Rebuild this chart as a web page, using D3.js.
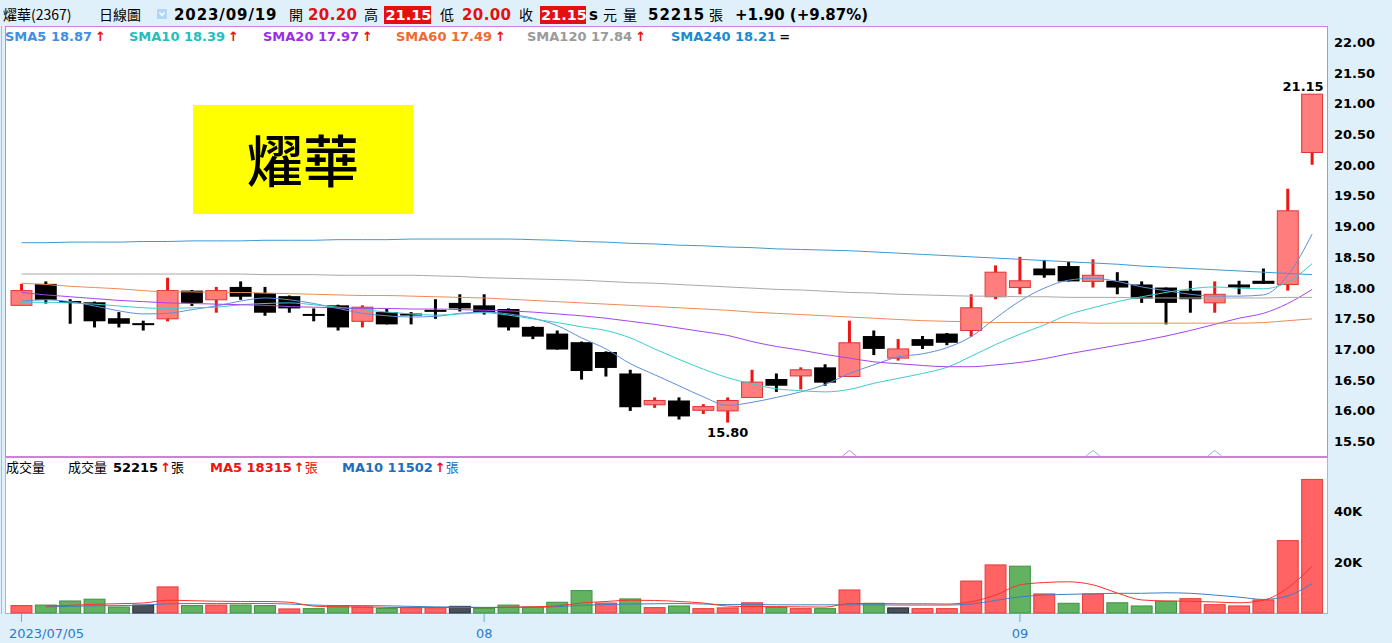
<!DOCTYPE html>
<html><head><meta charset="utf-8">
<script src="https://cdn.jsdelivr.net/npm/d3@7"></script>
<style>html,body{margin:0;padding:0;background:#e0f0fb;overflow:hidden}svg{display:block}</style>
</head><body><svg id="c" width="1392" height="643"></svg>
<script>
// ---------------- DATA ----------------
const dates = [
 "2023/07/05","2023/07/06","2023/07/07","2023/07/10","2023/07/11","2023/07/12","2023/07/13","2023/07/14","2023/07/17","2023/07/18",
 "2023/07/19","2023/07/20","2023/07/21","2023/07/24","2023/07/25","2023/07/26","2023/07/27","2023/07/28","2023/07/31","2023/08/01",
 "2023/08/02","2023/08/04","2023/08/07","2023/08/08","2023/08/09","2023/08/10","2023/08/11","2023/08/14","2023/08/15","2023/08/16",
 "2023/08/17","2023/08/18","2023/08/21","2023/08/22","2023/08/23","2023/08/24","2023/08/25","2023/08/28","2023/08/29","2023/08/30",
 "2023/08/31","2023/09/01","2023/09/04","2023/09/05","2023/09/06","2023/09/07","2023/09/08","2023/09/11","2023/09/12","2023/09/13",
 "2023/09/14","2023/09/15","2023/09/18","2023/09/19"];
const openP = [17.71,18.06,17.78,17.76,17.50,17.42,17.49,17.95,17.80,18.01,
 17.91,17.86,17.57,17.71,17.45,17.60,17.56,17.62,17.75,17.71,
 17.65,17.36,17.25,17.11,16.95,16.60,16.09,16.16,16.00,15.99,
 16.21,16.51,16.56,16.70,16.55,17.21,16.85,17.16,17.25,17.30,
 17.85,18.00,18.31,18.35,18.10,18.11,18.05,18.00,17.95,17.75,
 18.05,18.11,18.05,20.20];
const highP = [18.06,18.10,17.81,17.77,17.60,17.46,18.16,17.96,18.01,18.10,
 18.01,17.87,17.66,17.72,17.71,17.65,17.60,17.81,17.89,17.89,
 17.66,17.37,17.30,17.12,16.96,16.66,16.21,16.21,16.10,16.21,
 16.66,16.60,16.70,16.75,17.46,17.30,17.16,17.21,17.26,17.89,
 18.36,18.50,18.45,18.42,18.46,18.25,18.10,18.00,18.11,18.10,
 18.11,18.31,19.61,21.15];
const lowP = [17.71,17.74,17.41,17.35,17.35,17.30,17.45,17.70,17.59,17.80,
 17.54,17.59,17.45,17.30,17.35,17.40,17.40,17.49,17.61,17.56,
 17.30,17.16,16.99,16.50,16.55,15.99,16.04,15.85,15.94,15.80,
 16.21,16.30,16.34,16.40,16.55,16.90,16.81,17.00,17.06,17.20,
 17.81,17.89,18.16,18.10,18.00,17.89,17.75,17.40,17.59,17.59,
 17.89,18.06,17.95,20.00];
const closeP = [17.95,17.80,17.76,17.45,17.41,17.41,17.95,17.75,17.95,17.85,
 17.59,17.66,17.56,17.35,17.68,17.40,17.56,17.62,17.66,17.60,
 17.35,17.20,16.99,16.64,16.69,16.05,16.16,15.90,16.06,16.16,
 16.46,16.40,16.66,16.45,17.10,17.00,17.00,17.05,17.10,17.67,
 18.25,18.11,18.20,18.10,18.20,18.00,17.82,17.75,17.81,17.89,
 18.00,18.06,19.25,21.15];
const sma5 = [17.78,17.80,17.77,17.70,17.62,17.57,17.58,17.64,17.70,17.78,
 17.83,17.80,17.74,17.66,17.58,17.54,17.52,17.53,17.58,17.60,
 17.57,17.50,17.38,17.18,17.00,16.76,16.58,16.40,16.22,16.08,
 16.13,16.21,16.30,16.42,16.60,16.74,16.87,16.92,17.02,17.20,
 17.50,17.78,17.99,18.12,18.15,18.10,18.01,17.95,17.89,17.86,
 17.86,17.88,18.20,18.87];
const sma10 = [17.76,17.76,17.75,17.73,17.70,17.67,17.66,17.67,17.68,17.72,
 17.74,17.75,17.72,17.68,17.64,17.60,17.57,17.55,17.57,17.59,
 17.55,17.49,17.43,17.36,17.30,17.18,17.00,16.83,16.67,16.53,
 16.43,16.35,16.32,16.30,16.34,16.44,16.52,16.60,16.70,16.88,
 17.07,17.24,17.39,17.56,17.67,17.77,17.85,17.92,17.98,18.01,
 17.99,17.98,18.09,18.39];
const sma20 = [17.92,17.88,17.85,17.82,17.79,17.77,17.75,17.74,17.73,17.72,
 17.71,17.69,17.68,17.67,17.66,17.66,17.65,17.65,17.64,17.63,
 17.62,17.60,17.57,17.54,17.50,17.45,17.40,17.34,17.28,17.22,
 17.12,17.04,16.98,16.91,16.85,16.79,16.76,16.73,16.71,16.71,
 16.74,16.78,16.84,16.92,16.99,17.06,17.13,17.21,17.30,17.40,
 17.50,17.58,17.74,17.97];
const sma60 = [18.07,18.05,18.02,18.00,17.98,17.95,17.93,17.93,17.92,17.92,
 17.91,17.90,17.89,17.88,17.87,17.87,17.86,17.85,17.84,17.83,
 17.81,17.79,17.77,17.75,17.73,17.71,17.69,17.67,17.65,17.63,
 17.60,17.58,17.56,17.54,17.52,17.50,17.48,17.46,17.45,17.44,
 17.43,17.43,17.43,17.43,17.42,17.42,17.42,17.42,17.42,17.42,
 17.42,17.43,17.46,17.49];
const sma120 = [18.22,18.22,18.22,18.22,18.22,18.22,18.22,18.22,18.22,18.22,
 18.21,18.21,18.21,18.20,18.20,18.20,18.20,18.19,18.18,18.16,
 18.15,18.14,18.13,18.12,18.10,18.08,18.07,18.05,18.03,18.01,
 17.99,17.97,17.96,17.94,17.92,17.91,17.89,17.88,17.87,17.86,
 17.86,17.85,17.85,17.84,17.84,17.84,17.83,17.83,17.83,17.83,
 17.83,17.83,17.84,17.84];
const sma240 = [18.73,18.73,18.74,18.74,18.74,18.75,18.75,18.76,18.76,18.76,
 18.77,18.77,18.77,18.78,18.78,18.78,18.79,18.79,18.79,18.79,
 18.79,18.78,18.77,18.75,18.74,18.72,18.71,18.69,18.68,18.66,
 18.65,18.63,18.62,18.61,18.60,18.58,18.56,18.54,18.52,18.50,
 18.48,18.46,18.44,18.42,18.40,18.38,18.35,18.33,18.31,18.29,
 18.27,18.25,18.23,18.21];
const volume = [2900,3100,4700,5400,2350,3100,10200,2900,3100,3100,
 2900,1600,1700,2900,2350,1800,2100,2100,2600,1800,
 3100,2350,4200,8750,3900,5500,2100,2750,1700,2000,
 4000,2200,1700,1700,9000,3800,2000,1700,1700,12500,
 18800,18300,7450,3800,7450,4000,2750,4600,5600,3250,
 2750,5100,28300,52215];
const volDir = ["u","d","d","d","d","f","u","d","u","d",
 "d","u","d","d","u","d","u","u","f","d",
 "d","d","d","d","u","d","u","d","u","u",
 "u","d","u","d","u","d","f","u","u","u",
 "u","d","u","d","u","d","d","d","u","u",
 "u","u","u","u"];
const volMA5 = [null,2700,3000,3400,3650,3900,5000,4800,4600,4500,
 4500,4200,2700,2400,2400,2200,2100,2100,2200,2100,
 2300,2400,2800,3900,4500,5000,4900,4500,3900,2700,
 2500,2500,2400,2300,3700,3700,3600,3600,3500,4400,
 7000,11000,11900,12200,11000,7800,5100,4700,4600,4300,
 4000,5000,9800,18315];
const volMA10 = [null,2400,2600,2800,2900,3100,3600,3700,3700,3700,
 3700,3500,3100,2900,2900,2800,2600,2400,2300,2200,
 2200,2200,2500,3000,3300,3500,3600,3700,3500,3300,
 3300,3200,3200,3200,3200,3200,3100,3100,3100,3500,
 4900,6300,7000,7300,7500,7700,7700,7900,7700,7000,
 6200,5300,6700,11502];
const priceTicks = [15.5,16,16.5,17,17.5,18,18.5,19,19.5,20,20.5,21,21.5,22];
const volTicks = [20000,40000];
const volTickLabels = ["20K","40K"];
const xTickIdx = [0,19,41];
const xTickLabels = ["2023/07/05","08","09"];
const markerIdx = [34,44,49];
const maNames = ["SMA5","SMA10","SMA20","SMA60","SMA120","SMA240"];
const maLast = ["18.87","18.39","17.97","17.49","17.84","18.21"];

// ---------------- DRAW ----------------
const W = 1392, H = 643;
const FB = "'DejaVu Sans', Verdana, sans-serif";
const CJK = "'Noto Sans CJK TC', 'DejaVu Sans', sans-serif";
const svg = d3.select("#c");
svg.append("rect").attr("width", W).attr("height", H).attr("fill", "#e0f0fb");

// panels
svg.append("line").attr("x1",1.5).attr("x2",1.5).attr("y1",26).attr("y2",614).attr("stroke","#b9b9b9");
svg.append("rect").attr("x",5.5).attr("y",26.5).attr("width",1322).attr("height",430)
  .attr("fill","#fff").attr("stroke","#d27fdc");
svg.append("rect").attr("x",5.5).attr("y",457.5).attr("width",1322).attr("height",156)
  .attr("fill","#fff").attr("stroke","#8fc0e8");
svg.append("line").attr("x1",5.5).attr("x2",1327.5).attr("y1",457.5).attr("y2",457.5).attr("stroke","#d27fdc");

const n = dates.length;
const x = d3.scaleBand().domain(d3.range(n)).range([9.3, 1324.3]).paddingInner(0.1).paddingOuter(0.05);
const bw = x.bandwidth();
const cx = i => x(i) + bw / 2;
const y = d3.scaleLinear().domain([15.5, 22]).range([441, 42]);
const yv = d3.scaleLinear().domain([0, 60000]).range([613, 459.5]);

// candles
const gC = svg.append("g");
d3.range(n).forEach(i => {
  const o = openP[i], c = closeP[i], h = highP[i], l = lowP[i];
  const up = c > o;
  const col = up ? "#ee1515" : "#000";
  gC.append("line").attr("x1", cx(i)).attr("x2", cx(i)).attr("y1", y(h)).attr("y2", y(l))
    .attr("stroke", col).attr("stroke-width", 3);
  if (c === o) {
    gC.append("rect").attr("x", x(i)).attr("y", y(o) - 1).attr("width", bw).attr("height", 2).attr("fill", "#000");
  } else {
    const top = y(Math.max(o, c)), bot = y(Math.min(o, c));
    const hh = Math.max(bot - top, 2);
    if (up) {
      gC.append("rect").attr("x", x(i) + 0.5).attr("y", top).attr("width", bw - 1).attr("height", hh)
        .attr("fill", "#ff7d7d").attr("stroke", "#e23434").attr("stroke-width", 1);
    } else {
      gC.append("rect").attr("x", x(i)).attr("y", top).attr("width", bw).attr("height", hh).attr("fill", "#000");
    }
  }
});

// MA lines
const maData = [sma5, sma10, sma20, sma60, sma120, sma240];
const maLineCol = ["#5e8fdc","#3ccccc","#a444ee","#f28a55","#a9a9a9","#3a9bd3"];
const maTextCol = ["#3f8fe2","#25bcbc","#9a2ee6","#f06a30","#9a9a9a","#1b8ad0"];
const line = d3.line().x((d, i) => cx(i)).y(d => y(d)).curve(d3.curveMonotoneX);
maData.forEach((arr, k) => {
  svg.append("path").attr("d", line(arr)).attr("fill", "none").attr("stroke", maLineCol[k]).attr("stroke-width", 1);
});

// markers
markerIdx.forEach((i, k) => {
  svg.append("path").attr("d", `M${cx(i)-7},456 L${cx(i)},450.5 L${cx(i)+7},456`)
    .attr("fill", "none").attr("stroke", k === 0 ? "#b68ae6" : "#86b8e6").attr("stroke-width", 1);
});

// annotations
svg.append("text").attr("x", cx(29)).attr("y", 437).attr("text-anchor", "middle")
  .attr("font-family", FB).attr("font-weight", "bold").attr("font-size", 13).text("15.80");
svg.append("text").attr("x", cx(53) - 9).attr("y", 91).attr("text-anchor", "middle")
  .attr("font-family", FB).attr("font-weight", "bold").attr("font-size", 13).text("21.15");

// yellow title box
svg.append("rect").attr("x", 193).attr("y", 105).attr("width", 220).attr("height", 109).attr("fill", "#ffff00");
svg.append("text").attr("x", 303).attr("y", 182).attr("text-anchor", "middle")
  .attr("font-family", "'Noto Sans CJK TC', sans-serif").attr("font-weight", 500).attr("font-size", 56).text("燿華");

// price axis labels
priceTicks.forEach(p => {
  svg.append("text").attr("x", 1334).attr("y", y(p) + 5).attr("font-family", FB).attr("font-weight", "bold")
    .attr("font-size", 13).attr("fill", "#000").text(p.toFixed(2));
});

// volume bars
const vFill = {u: "#ff6363", d: "#62b262", f: "#4a5058"};
const vStroke = {u: "#e83b3b", d: "#3f923f", f: "#2a2e36"};
d3.range(n).forEach(i => {
  svg.append("rect").attr("x", x(i) + 0.5).attr("y", yv(volume[i])).attr("width", bw - 1)
    .attr("height", yv(0) - yv(volume[i])).attr("fill", vFill[volDir[i]]).attr("stroke", vStroke[volDir[i]]).attr("stroke-width", 1);
});
const vline = d3.line().defined(d => d !== null).x((d, i) => cx(i)).y(d => yv(d)).curve(d3.curveMonotoneX);
svg.append("path").attr("d", vline(volMA10)).attr("fill", "none").attr("stroke", "#3a80c4").attr("stroke-width", 1);
svg.append("path").attr("d", vline(volMA5)).attr("fill", "none").attr("stroke", "#ff3030").attr("stroke-width", 1);

volTicks.forEach((v, k) => {
  svg.append("text").attr("x", 1334).attr("y", yv(v) + 5).attr("font-family", FB).attr("font-weight", "bold")
    .attr("font-size", 13).text(volTickLabels[k]);
});

// x axis
xTickIdx.forEach((i, k) => {
  svg.append("line").attr("x1", cx(i)).attr("x2", cx(i)).attr("y1", 614).attr("y2", 622).attr("stroke", "#6ea6d6");
  const t = svg.append("text").attr("y", 638).attr("font-family", FB).attr("font-size", 13).attr("fill", "#2a7cc6")
    .text(xTickLabels[k]);
  const w = t.node().getComputedTextLength();
  let lx = cx(i) - w / 2;
  if (lx < 9) lx = 9;
  t.attr("x", lx);
});

// header
function txt(xp, yp, s, o = {}) {
  const t = svg.append("text").attr("x", xp).attr("y", yp).attr("font-family", o.f || FB)
    .attr("font-weight", o.b ? "bold" : "normal").attr("font-size", o.s || 14).attr("fill", o.c || "#000").text(s);
  if (o.ls) t.attr("letter-spacing", o.ls);
  return t;
}
const HY = 20;
txt(3, HY, "燿華(2367)", {f: CJK, s: 14});
txt(99, HY, "日線圖", {f: CJK, s: 14});
svg.append("rect").attr("x", 157).attr("y", 9).attr("width", 10).attr("height", 10).attr("fill", "#b3d6f2");
svg.append("path").attr("d", "M159.5,12.5 L162,15.5 L164.5,12.5").attr("fill", "none").attr("stroke", "#fff").attr("stroke-width", 1.2);
txt(174, HY, "2023/09/19", {b: true, s: 15, ls: 0.9});
txt(289, HY, "開", {f: CJK, s: 14});
txt(308, HY, "20.20", {b: true, s: 15, c: "#e41010", ls: 0.4});
txt(364, HY, "高", {f: CJK, s: 14});
svg.append("rect").attr("x", 384).attr("y", 6).attr("width", 47).attr("height", 18).attr("fill", "#e41010");
txt(385.5, HY, "21.15", {b: true, s: 14.5, c: "#fff"});
txt(440, HY, "低", {f: CJK, s: 14});
txt(462, HY, "20.00", {b: true, s: 15, c: "#e41010", ls: 0.4});
txt(519, HY, "收", {f: CJK, s: 14});
svg.append("rect").attr("x", 540).attr("y", 6).attr("width", 46).attr("height", 18).attr("fill", "#e41010");
txt(541, HY, "21.15", {b: true, s: 14.5, c: "#fff"});
txt(589, HY, "s", {b: true, s: 15});
txt(603, HY, "元", {f: CJK, s: 14});
txt(623, HY, "量", {f: CJK, s: 14});
txt(648, HY, "52215", {b: true, s: 15, ls: 1});
txt(709, HY, "張", {f: CJK, s: 14});
txt(735, HY, "+1.90 (+9.87%)", {b: true, s: 15});

// MA legend
const legX = [5, 129, 263, 396, 527, 671];
maNames.forEach((nm, k) => {
  const t = svg.append("text").attr("x", legX[k]).attr("y", 41).attr("font-family", FB).attr("font-size", 13);
  t.append("tspan").attr("font-weight", "bold").attr("fill", maTextCol[k]).text(nm + " " + maLast[k]);
  if (k < 5) t.append("tspan").attr("dx", 3).attr("font-weight", "bold").attr("fill", "#ee1111").text("↑");
  else t.append("tspan").attr("dx", 3).attr("font-weight", "bold").attr("fill", "#000").text("=");
});

// volume legend
const VY = 472;
txt(6, VY, "成交量", {f: CJK, s: 13});
{
  const t = svg.append("text").attr("x", 68).attr("y", VY).attr("font-size", 13).attr("font-family", FB);
  t.append("tspan").attr("font-family", CJK).text("成交量 ");
  t.append("tspan").attr("font-weight", "bold").attr("dx", 3).text("52215");
  t.append("tspan").attr("font-weight", "bold").attr("fill", "#ee1111").attr("dx", 2).text("↑");
  t.append("tspan").attr("font-family", CJK).text("張");
}
{
  const t = svg.append("text").attr("x", 210).attr("y", VY).attr("font-size", 13).attr("font-family", FB);
  t.append("tspan").attr("font-weight", "bold").attr("fill", "#ee1111").text("MA5 18315");
  t.append("tspan").attr("font-weight", "bold").attr("fill", "#ee1111").attr("dx", 2).text("↑");
  t.append("tspan").attr("font-family", CJK).attr("fill", "#ee1111").text("張");
}
{
  const t = svg.append("text").attr("x", 342).attr("y", VY).attr("font-size", 13).attr("font-family", FB);
  t.append("tspan").attr("font-weight", "bold").attr("fill", "#1c6fbf").text("MA10 11502");
  t.append("tspan").attr("font-weight", "bold").attr("fill", "#ee1111").attr("dx", 2).text("↑");
  t.append("tspan").attr("font-family", CJK).attr("fill", "#1c6fbf").text("張");
}
</script></body></html>
